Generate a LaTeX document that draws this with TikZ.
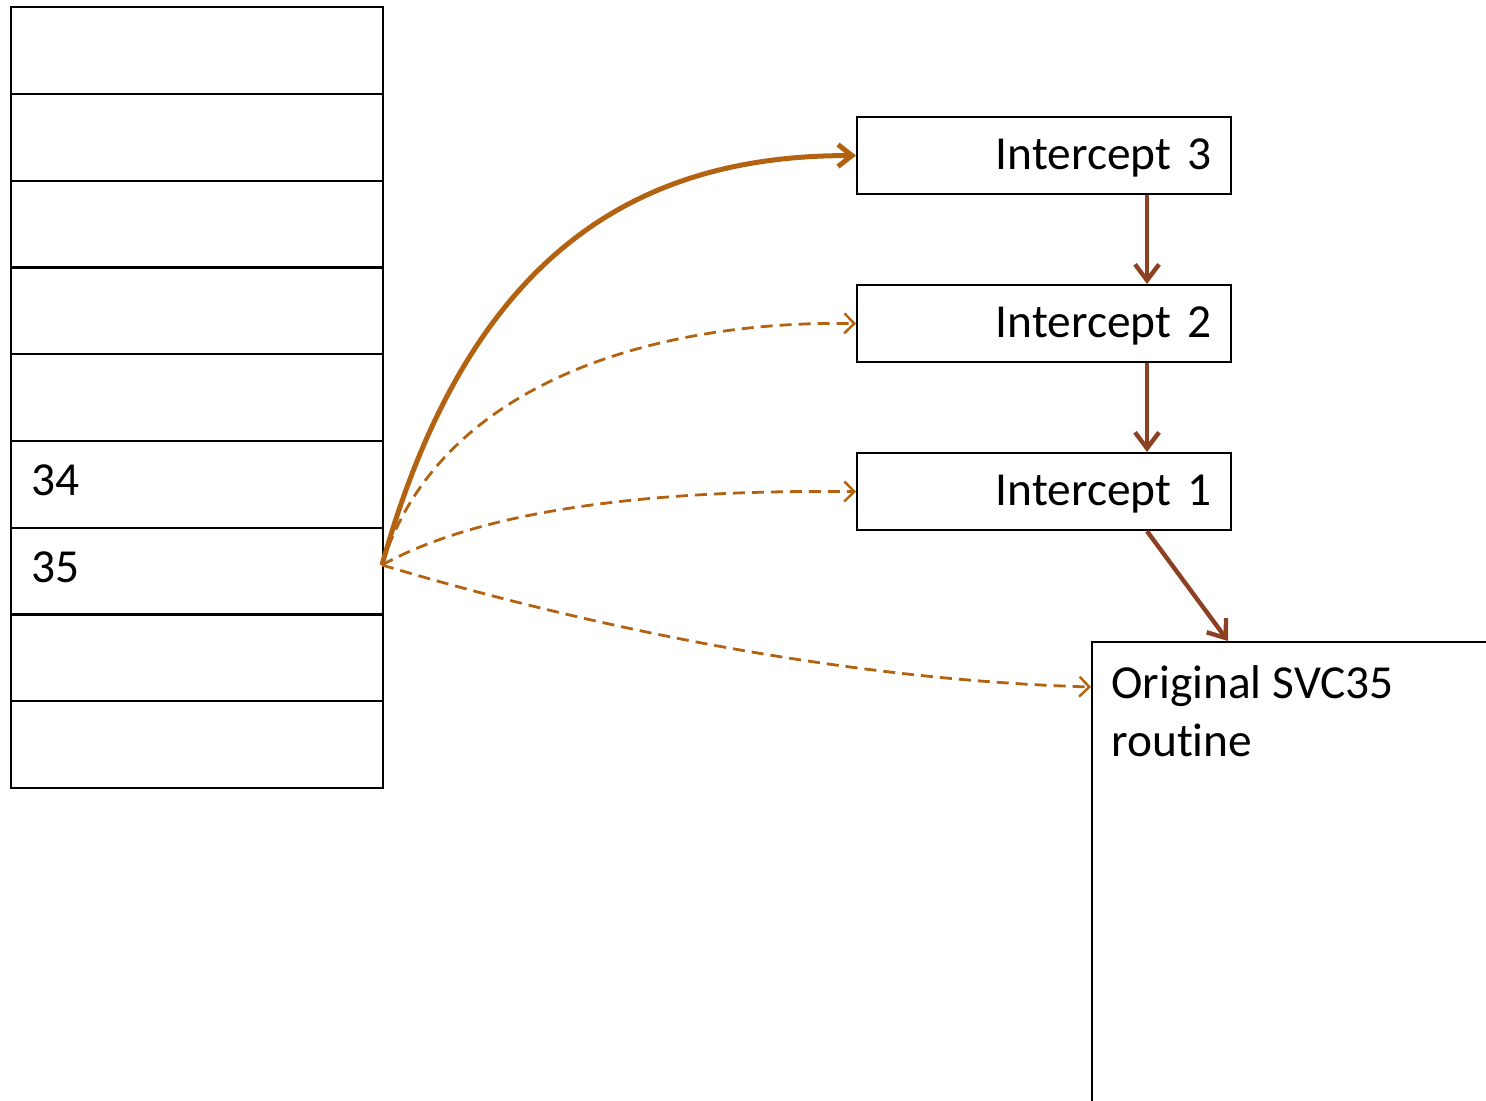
\documentclass[tikz,border=0pt]{standalone}
\usepackage{fontspec}
\setmainfont{Carlito}[Ligatures=CommonOff]
\usepackage{xcolor}
\usepackage{tikz}
\usetikzlibrary{arrows.meta,positioning,calc}
\definecolor{hook}{RGB}{178,98,16}
\definecolor{chain}{RGB}{140,66,34}
\definecolor{ink}{RGB}{0,0,0}

\begin{document}
\begin{tikzpicture}[x=0.5pt,y=-0.5pt,font=\fontsize{23.7}{29}\selectfont]
\tikzset{cell/.style={draw=ink,line width=1.1pt,minimum width=186pt,minimum height=43.4pt,inner sep=0pt,text width=166pt,text depth=4pt,align=left,anchor=north west},
  icpt/.style={draw=ink,line width=1.1pt,minimum width=187pt,minimum height=38.5pt,inner xsep=10pt,text width=167pt,text depth=1.7pt,align=right,anchor=north west},
  hk/.style={->,draw=hook,line width=1.4pt,dash pattern=on 6pt off 3.5pt,>={Straight Barb[length=5pt,width=10pt,line width=1.2pt]}},
  hkmain/.style={->,draw=hook,line width=2.5pt,>={Straight Barb[length=7pt,width=11pt]}},
  nxt/.style={->,draw=chain,line width=2.2pt,>={Straight Barb[length=8pt,width=12pt]}}}
\useasboundingbox (0,0) rectangle (1486,1101);
\clip (0,0) rectangle (1486,1101);
% vector table
\foreach \i/\t in {1/,2/,3/,4/,5/,6/34,7/35,8/,9/}
  \node[cell] (r\i) at (10,{6+(\i-1)*86.78}) {\t};
% intercept chain
\node[icpt] (i3) at (856,116) {Intercept 3};
\node[icpt] (i2) at (856,284) {Intercept 2};
\node[icpt] (i1) at (856,452) {Intercept 1};
\node[draw=ink,line width=1.1pt,minimum width=500pt,minimum height=300pt,anchor=north west] (svc) at (1091,641) {};
\node[anchor=north west,align=left,inner sep=0pt] (svctxt) at (1111,665) {Original SVC35\\routine};
\coordinate (src) at (382,565);
\coordinate (svctop) at (1228,641);
\coordinate (svcin) at (1091,687);
\draw[hkmain] (src) .. controls (470,250) and (640,155) .. (i3.west);
\draw[hk] (src) .. controls (440,380) and (660,320) .. (i2.west);
\draw[hk] (src) .. controls (500,500) and (700,490) .. (i1.west);
\draw[hk] (src) .. controls (600,630) and (850,680) .. (svcin);
\draw[nxt] (i3.south -| 1147,0) -- (i2.north -| 1147,0);
\draw[nxt] (i2.south -| 1147,0) -- (i1.north -| 1147,0);
\draw[nxt] (i1.south -| 1147,0) -- (svctop);
\end{tikzpicture}
\end{document}
